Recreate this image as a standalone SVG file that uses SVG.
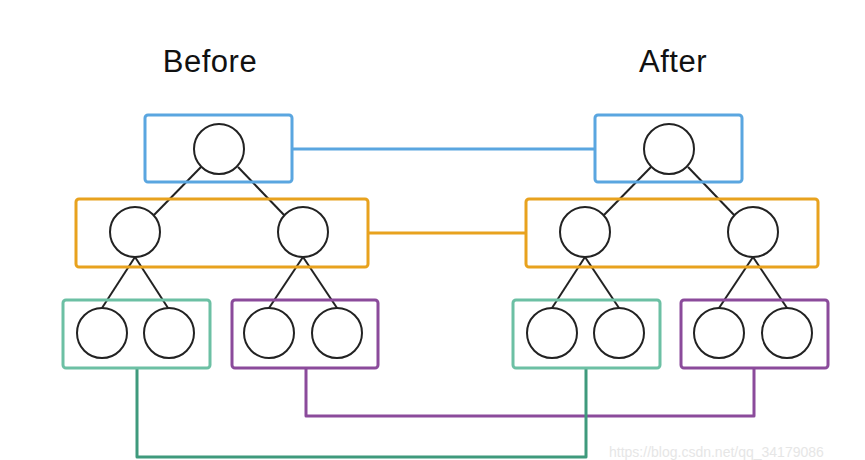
<svg xmlns="http://www.w3.org/2000/svg" width="865" height="460" viewBox="0 0 865 460">
<style>
.t{font-family:"Liberation Sans",Arial,sans-serif;font-size:31px;fill:#111;text-anchor:middle;letter-spacing:0.5px}
.c{fill:#fff;stroke:#222;stroke-width:2}
.e{stroke:#222;stroke-width:2;fill:none}
.box{fill:none;stroke-width:3}
.blue{stroke:#5aa6e0}
.orange{stroke:#e8a21e}
.teal{stroke:#6cc0a4}
.purple{stroke:#8b4b9b}
.wm{font-family:"Liberation Sans",Arial,sans-serif;font-size:14px;fill:#e6e6e6}
</style>
<rect width="865" height="460" fill="#fff"/>
<text class="t" x="210" y="72">Before</text>
<text class="t" x="673" y="72">After</text>
<g id="connectors" fill="none" stroke-width="3" stroke-linejoin="round">
<line x1="292" y1="149" x2="595" y2="149" stroke="#5aa6e0"/>
<line x1="368" y1="233" x2="526" y2="233" stroke="#e8a21e"/>
<polyline points="306,368 306,416 754,416 754,368" stroke="#8b4b9b"/>
<polyline points="137,368 137,457 586,457 586,368" stroke="#3f9a7c"/>
</g>
<g id="edges">
<line class="e" x1="201" y1="167" x2="153" y2="216"/>
<line class="e" x1="238" y1="167" x2="285" y2="216"/>
<line class="e" x1="135" y1="257" x2="102" y2="308"/>
<line class="e" x1="135" y1="257" x2="168" y2="308"/>
<line class="e" x1="303" y1="257" x2="269" y2="308"/>
<line class="e" x1="303" y1="257" x2="337" y2="308"/>
<line class="e" x1="651" y1="167" x2="603" y2="216"/>
<line class="e" x1="688" y1="167" x2="735" y2="216"/>
<line class="e" x1="585" y1="257" x2="552" y2="308"/>
<line class="e" x1="585" y1="257" x2="619" y2="308"/>
<line class="e" x1="753" y1="257" x2="719" y2="308"/>
<line class="e" x1="753" y1="257" x2="787" y2="308"/>
</g>
<g id="before-root"><rect class="box blue" x="145" y="115" width="147" height="67" rx="3"/><circle class="c" cx="219" cy="149" r="25"/></g>
<g id="before-level2"><rect class="box orange" x="76" y="199" width="292" height="68" rx="3"/><circle class="c" cx="135" cy="232" r="25"/><circle class="c" cx="303" cy="232" r="25"/></g>
<g id="before-left-leaves"><rect class="box teal" x="63" y="300" width="147" height="68" rx="3"/><circle class="c" cx="102" cy="333" r="25"/><circle class="c" cx="169" cy="333" r="25"/></g>
<g id="before-right-leaves"><rect class="box purple" x="232" y="300" width="146" height="68" rx="3"/><circle class="c" cx="269" cy="333" r="25"/><circle class="c" cx="337" cy="333" r="25"/></g>
<g id="after-root"><rect class="box blue" x="595" y="115" width="147" height="67" rx="3"/><circle class="c" cx="669" cy="149" r="25"/></g>
<g id="after-level2"><rect class="box orange" x="526" y="199" width="292" height="68" rx="3"/><circle class="c" cx="585" cy="232" r="25"/><circle class="c" cx="753" cy="232" r="25"/></g>
<g id="after-left-leaves"><rect class="box teal" x="513" y="300" width="147" height="68" rx="3"/><circle class="c" cx="552" cy="333" r="25"/><circle class="c" cx="619" cy="333" r="25"/></g>
<g id="after-right-leaves"><rect class="box purple" x="681" y="300" width="147" height="68" rx="3"/><circle class="c" cx="719" cy="333" r="25"/><circle class="c" cx="787" cy="333" r="25"/></g>
<text class="wm" x="609" y="457">https://blog.csdn.net/qq_34179086</text>
</svg>
